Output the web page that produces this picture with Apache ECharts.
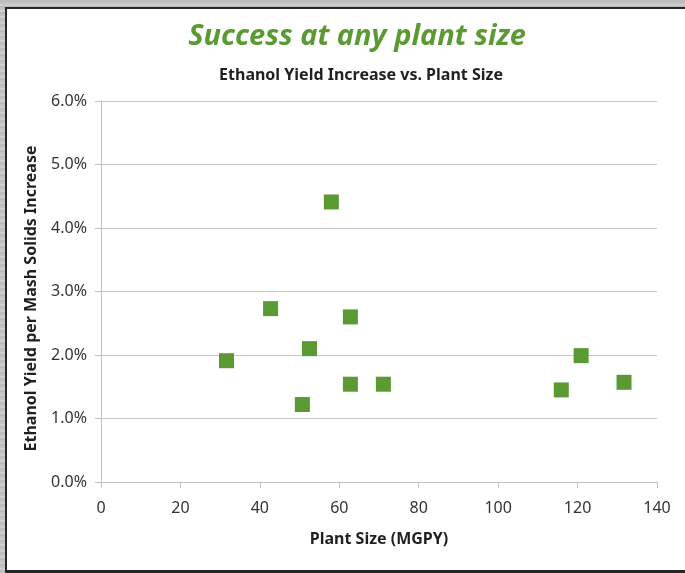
<!DOCTYPE html>
<html>
<head>
<meta charset="utf-8">
<script src="https://cdn.jsdelivr.net/npm/echarts@6/dist/echarts.min.js"></script>
<style>
  html, body { margin: 0; padding: 0; }
  body {
    width: 685px; height: 573px; overflow: hidden; position: relative;
    background: repeating-linear-gradient(0deg, #c9c9c9 0px, #b5b5b5 2px, #d4d4d4 4px, #bcbcbc 6px);
  }
  #frame {
    position: absolute; left: 5px; top: 7px; width: 690px; height: 561px;
    background: #fff;
    border-left: 2px solid #262626; border-top: 2px solid #262626; border-bottom: 3px solid #262626;
  }
  #chart { position: absolute; left: 0; top: 0; width: 685px; height: 573px; }
</style>
</head>
<body>
<div id="frame"></div>
<div id="chart"></div>
<script>
// 数据：工厂规模 (MGPY) 与 乙醇产率提升
const plantSize = [31.6, 42.7, 50.7, 52.5, 58.0, 62.8, 62.8, 71.1, 115.9, 120.9, 131.7]
const yieldIncrease = [1.91, 2.73, 1.22, 2.10, 4.41, 2.60, 1.54, 1.54, 1.45, 1.99, 1.57]
const xTicks = [0, 20, 40, 60, 80, 100, 120, 140]
const yTicks = [0, 1, 2, 3, 4, 5, 6]

const chart = echarts.init(document.getElementById('chart'))

const points = plantSize.map((x, i) => [x, yieldIncrease[i]])

const labelFont = '"Noto Sans", sans-serif'

const option = {
  animation: false,
  title: [
    {
      text: 'Success at any plant size',
      left: 352,
      top: 17,
      textAlign: 'center',
      textStyle: {
        color: '#5b9a33',
        fontSize: 29,
        fontWeight: 'bold',
        fontStyle: 'italic',
        fontFamily: '"Open Sans", sans-serif'
      }
    },
    {
      text: 'Ethanol Yield Increase vs. Plant Size',
      left: 356,
      top: 62,
      textAlign: 'center',
      textStyle: {
        color: '#231f20',
        fontSize: 16,
        fontWeight: 'bold',
        fontFamily: labelFont
      }
    }
  ],
  grid: {
    left: 101,
    top: 101,
    right: 28,
    bottom: 91,
    containLabel: false
  },
  xAxis: {
    type: 'value',
    min: xTicks[0],
    max: xTicks[xTicks.length - 1],
    interval: 20,
    name: 'Plant Size (MGPY)',
    nameLocation: 'middle',
    nameGap: 49,
    nameTextStyle: { color: '#231f20', fontSize: 16, fontWeight: 'bold', fontFamily: labelFont },
    axisLine: { show: true, lineStyle: { color: '#c0c0c0', width: 1 } },
    axisTick: { show: true, length: 6, lineStyle: { color: '#c0c0c0' } },
    axisLabel: { color: '#333', fontSize: 16, margin: 18, fontFamily: labelFont },
    splitLine: { show: false }
  },
  yAxis: {
    type: 'value',
    min: yTicks[0],
    max: yTicks[yTicks.length - 1],
    interval: 1,
    name: 'Ethanol Yield per Mash Solids Increase',
    nameLocation: 'middle',
    nameGap: 62,
    nameTextStyle: {
      color: '#231f20',
      fontSize: 16,
      fontWeight: 'bold',
      fontFamily: labelFont,
      padding: [0, 14, 0, 0]
    },
    axisLine: { show: true, lineStyle: { color: '#c0c0c0', width: 1 } },
    axisTick: { show: true, length: 6, lineStyle: { color: '#c0c0c0' } },
    axisLabel: {
      color: '#333',
      fontSize: 16,
      margin: 14,
      fontFamily: labelFont,
      formatter: v => v.toFixed(1) + '%'
    },
    splitLine: { show: true, lineStyle: { color: '#c6c6c6', width: 1 } }
  },
  series: [
    {
      type: 'scatter',
      symbol: 'rect',
      symbolSize: 15,
      itemStyle: { color: '#5b9a33', opacity: 1 },
      data: points
    }
  ]
}

chart.setOption(option)
</script>
</body>
</html>
